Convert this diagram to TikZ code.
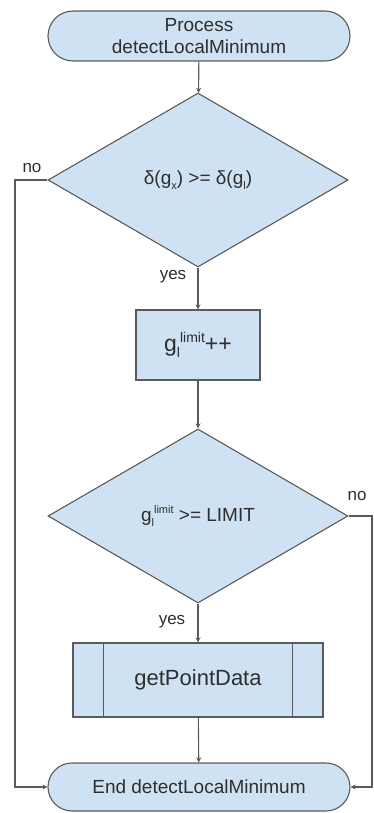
\documentclass[tikz,border=0pt]{standalone}
\usepackage{fontspec}
\setmainfont{Liberation Sans}
\usetikzlibrary{shapes.geometric,shapes.misc,arrows.meta,calc}
\definecolor{boxfill}{HTML}{CFE2F3}
\definecolor{boxline}{HTML}{5A5A5A}
\definecolor{txt}{HTML}{2E2E2E}
\newcommand{\smallsc}[1]{{\fontsize{11}{12}\selectfont #1}}
\newcommand{\midsc}[1]{{\fontsize{14}{15}\selectfont #1}}
\newcommand{\glimit}{g\raisebox{-0.45ex}{\smallsc{l}}\raisebox{0.8ex}{\smallsc{limit}}}
\newcommand{\glimitbig}{g\raisebox{-0.45ex}{\midsc{l}}\raisebox{0.75ex}{\midsc{limit}}}
\tikzset{
  base/.style={draw=boxline, fill=boxfill, line width=1.1pt, text=txt, align=center, inner sep=0pt,
    font=\fontsize{19}{22}\selectfont},
  term/.style={base, rounded rectangle, minimum width=302pt, minimum height=50pt},
  decision/.style={base, diamond, minimum width=300pt, minimum height=174pt},
  procbox/.style={base, rectangle, minimum width=124pt, minimum height=70pt, font=\fontsize{23}{26}\selectfont},
  predef/.style={base, rectangle, minimum width=250pt, minimum height=74pt, font=\fontsize{22}{26}\selectfont},
  conn/.style={draw=boxline, line width=1.1pt, -{Stealth[length=5pt,width=5pt]}},
  plainline/.style={draw=boxline, line width=1.1pt},
  lbl/.style={text=txt, font=\fontsize{17}{20}\selectfont, inner sep=0pt}
}
\begin{document}
\begin{tikzpicture}[x=1pt,y=-1pt]
\useasboundingbox (0,0) rectangle (374,813);
\node[term] (start) at (199,36) {Process\\detectLocalMinimum};
\node[decision] (d1) at (198,180) {δ(g\raisebox{-0.45ex}{\smallsc{x}}) >= δ(g\raisebox{-0.45ex}{\smallsc{l}})};
\node[procbox] (inc) at (198,345) {\glimitbig++};
\node[decision] (d2) at (198,516) {\glimit{} >= LIMIT};
\node[predef] (pd) at (198,680) {getPointData};
\node[term, minimum height=48pt] (end) at (199,787) {End detectLocalMinimum};
\draw[plainline] ($(pd.north west)+(31,0)$) -- ($(pd.south west)+(31,0)$);
\draw[plainline] ($(pd.north east)+(-31,0)$) -- ($(pd.south east)+(-31,0)$);
\coordinate (lc1) at (15,180);
\coordinate (lc2) at (15,787);
\coordinate (rc1) at (372,516);
\coordinate (rc2) at (372,787);
\draw[conn] (start) -- (d1);
\draw[conn] (d1) -- (inc);
\draw[conn] (inc) -- (d2);
\draw[conn] (d2) -- (pd);
\draw[conn] (pd) -- (end);
\draw[conn] (d1.west) -- (lc1) -- (lc2) -- (end.west);
\draw[conn] (d2.east) -- (rc1) -- (rc2) -- (end.east);
\node[lbl] (no1) at (32,168) {no};
\node[lbl] (yes1) at (173,277) {yes};
\node[lbl] (no2) at (357,496) {no};
\node[lbl] (yes2) at (172,622) {yes};
\end{tikzpicture}
\end{document}
